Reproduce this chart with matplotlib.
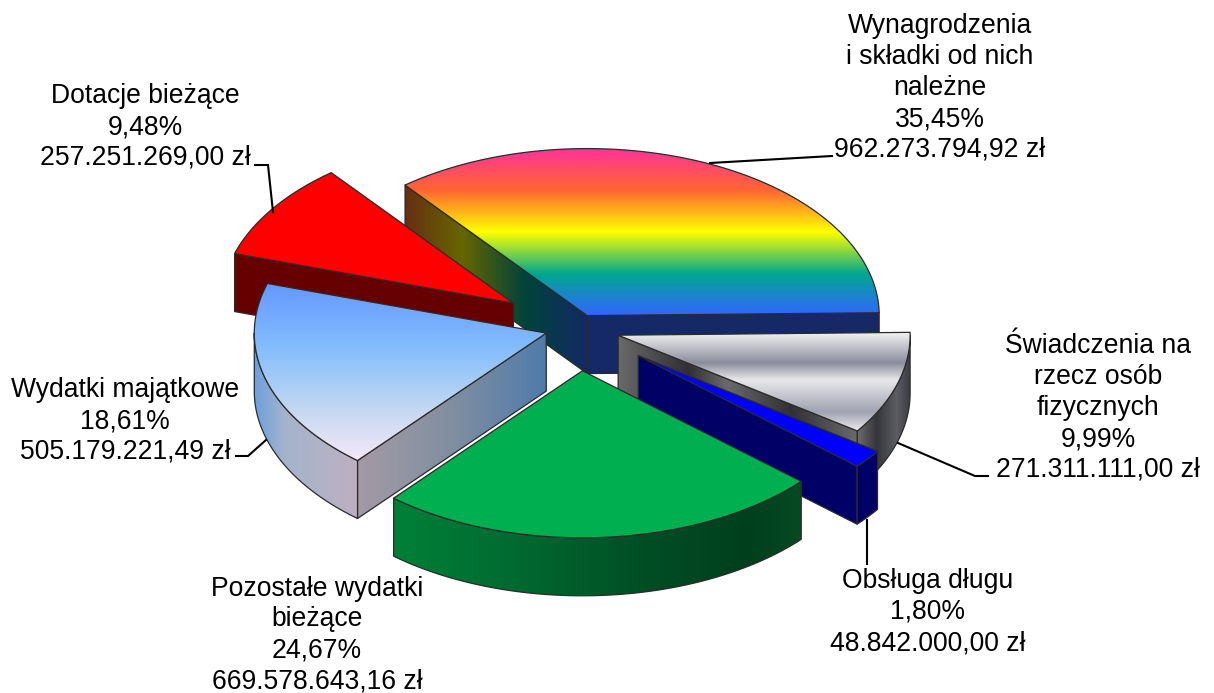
import numpy as np
import matplotlib
matplotlib.use("Agg")
import matplotlib.pyplot as plt
from matplotlib.colors import LinearSegmentedColormap
from matplotlib.patches import Polygon

# ---- data ----
categories = ["Wynagrodzenia\ni składki od nich\nnależne",
              "Świadczenia na\nrzecz osób\nfizycznych",
              "Obsługa długu",
              "Pozostałe wydatki\nbieżące",
              "Wydatki majątkowe",
              "Dotacje bieżące"]
percents = [35.45, 9.99, 1.80, 24.67, 18.61, 9.48]
amounts = ["962.273.794,92 zł", "271.311.111,00 zł", "48.842.000,00 zł",
           "669.578.643,16 zł", "505.179.221,49 zł", "257.251.269,00 zł"]

# ---- geometry of the 3-D pie, in pixels ----
W, H = 1214, 693
CX, CY, RX, RY, DEPTH = 577, 328, 292, 167, 58
K = RY / RX
FIRST_ANGLE = 128.6
explode = [24, 43, 78, 75, 32, 77]
draw_order = [0, 5, 1, 2, 4, 3]

RAINBOW = [(0, "#FF3399"), (.25, "#FF6633"), (.5, "#FFFF00"), (.75, "#01A78F"), (1, "#3366FF")]
RAINBOW_DK = [(0, "#661440"), (.25, "#662914"), (.5, "#666600"), (.75, "#00433A"), (1, "#142966")]
SILVER = [(0, "#F5F5F5"), (.31, "#8A8D9C"), (.48, "#E8E8EA"), (.8, "#A0A3B0"), (1, "#F0EEF0")]
SKY = [(0, "#6699FF"), (.35, "#84BDFC"), (.7, "#C4D8F0"), (1, "#F8E8F8")]
GREY_CUT = [(0, "#6A6A6A"), (.29, "#2F2F35"), (.45, "#6A6A6A"), (.72, "#303036"), (1, "#6B6B6B")]
GREY_WALL = [(0, "#6B6B6B"), (.36, "#35353C"), (.75, "#5C5C62"), (1, "#3C3C44")]
SKY_CUT = [(0, "#A39AA5"), (.5, "#808EA0"), (1, "#4F7BAB")]
SKY_WALL = [(0, "#6A9FDC"), (.3, "#A5B4CC"), (1, "#BEB0C0")]
GREEN_WALL = [(0, "#008038"), (.3, "#006A30"), (.6, "#004F25"), (.87, "#003F1D"), (1, "#064A22")]
def flat(c):
    return [(0, c), (1, c)]

# top (stops, lo, hi), cut side (stops, lo, hi), outer wall (stops, lo, hi)
styles = [
    ((RAINBOW, 148, 315), (RAINBOW_DK, 337, 587), (RAINBOW_DK, 337, 587)),
    ((SILVER, 332, 432), (GREY_CUT, 618, 858), (GREY_WALL, 858, 910)),
    ((flat("#0000FF"), 0, 1), (flat("#000066"), 0, 1), (flat("#000066"), 0, 1)),
    ((flat("#00B050"), 0, 1), (flat("#00592B"), 0, 1), (GREEN_WALL, 392, 801)),
    ((SKY, 285, 462), (SKY_CUT, 358, 547), (SKY_WALL, 254, 358)),
    ((flat("#FF0000"), 0, 1), (flat("#660000"), 0, 1), (flat("#660000"), 0, 1)),
]
EDGE = "#2B2B2B"

# label centres and leader lines (layout)
label_pos = [(940, 88), (1098, 408), (928, 612), (317, 635), (125, 421), (145, 127)]
leaders = [
    [(710, 163), (832, 156)],
    [(898, 443), (975, 476), (988, 476)],
    [(867, 520), (867, 564)],
    None,
    [(266, 440), (248, 456), (236, 456)],
    [(273, 212), (268, 165), (255, 165)],
]

fig = plt.figure(figsize=(W / 100, H / 100), dpi=100)
ax = fig.add_axes([0, 0, 1, 1])
ax.set_axis_off()
z = [1]


def fill(poly, grad, axis):
    stops, lo, hi = grad
    poly = np.asarray(poly)
    x0, y0 = poly.min(axis=0)
    x1, y1 = poly.max(axis=0)
    cmap = LinearSegmentedColormap.from_list("g", stops, N=512)
    n = 400
    if axis == "y":
        t = np.clip((np.linspace(y0, y1, n) - lo) / (hi - lo), 0, 1).reshape(-1, 1)
    else:
        t = np.clip((np.linspace(x0, x1, n) - lo) / (hi - lo), 0, 1).reshape(1, -1)
    z[0] += 1
    im = ax.imshow(t, cmap=cmap, vmin=0, vmax=1, extent=(x0, x1, y1, y0), origin="upper",
                   aspect="auto", interpolation="bilinear", zorder=z[0])
    clip = Polygon(poly, closed=True, transform=ax.transData)
    im.set_clip_path(clip)
    z[0] += 1
    ax.add_patch(Polygon(poly, closed=True, fill=False, edgecolor=EDGE, linewidth=0.9,
                         joinstyle="round", zorder=z[0]))


def draw_slice(a0, a1, ox, oy, style):
    top_grad, cut_grad, wall_grad = style
    apex = np.array([ox, oy])
    ang = np.radians(np.linspace(a0, a1, 160))
    arc = np.column_stack([ox + RX * np.cos(ang), oy - RY * np.sin(ang)])
    amid = np.radians((a0 + a1) / 2)
    mid = np.array([ox + RX * np.cos(amid), oy - RY * np.sin(amid)])
    down = np.array([0, DEPTH])
    # cut faces facing the viewer
    for p in (arc[0], arc[-1]):
        d = p - apex
        line_y = apex[1] + d[1] / d[0] * (mid[0] - apex[0])
        if line_y > mid[1]:
            fill([apex, p, p + down, apex + down], cut_grad, "x")
    # outer wall, front half only
    front = np.sin(ang) <= 0
    if front.sum() > 1:
        w = arc[front]
        fill(np.vstack([w, (w + down)[::-1]]), wall_grad, "x")
    fill(np.vstack([apex, arc]), top_grad, "y")


shares = np.array(percents) / sum(percents) * 360
ends = FIRST_ANGLE - np.cumsum(shares)
starts = ends + shares
for i in draw_order:
    m = np.radians((starts[i] + ends[i]) / 2)
    ox = CX + explode[i] * np.cos(m)
    oy = CY - explode[i] * K * np.sin(m)
    draw_slice(starts[i], ends[i], ox, oy, styles[i])

z[0] += 1
for pts in leaders:
    if pts:
        xs, ys = zip(*pts)
        ax.plot(xs, ys, color="black", lw=1.5, solid_joinstyle="miter", zorder=z[0])

for name, pct, amt, (x, y) in zip(categories, percents, amounts, label_pos):
    s = f"{name}\n{pct:.2f}".replace(".", ",") + f"%\n{amt}"
    ax.text(x, y, s, ha="center", va="center", family="Liberation Sans", fontsize=19.1,
            linespacing=1.25, color="black", zorder=z[0] + 1)

ax.set_xlim(0, W)
ax.set_ylim(H, 0)
fig.savefig("out.png", dpi=100, facecolor="white")
